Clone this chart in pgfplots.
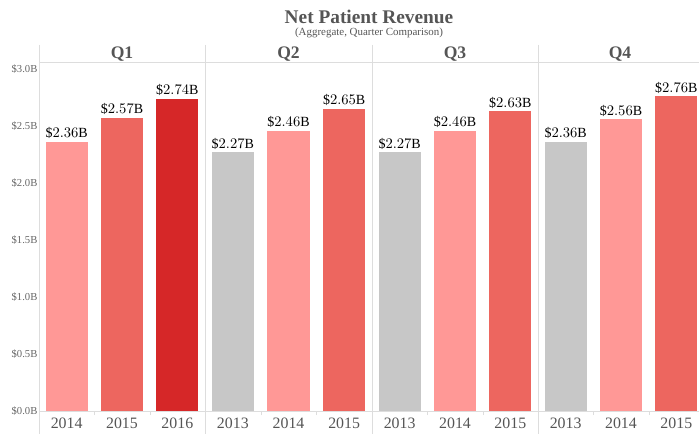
\documentclass[border=0pt]{standalone}
\usepackage{fontspec}
\setmainfont{Liberation Serif}
\usepackage{pgfplots}
\pgfplotsset{compat=1.18}
\definecolor{pinkc}{HTML}{FF9896}
\definecolor{salmon}{HTML}{ED665F}
\definecolor{redc}{HTML}{D62728}
\definecolor{grayc}{HTML}{C7C7C7}
\definecolor{linec}{HTML}{DDDDDD}
\definecolor{txt}{HTML}{555555}
\definecolor{ytxt}{HTML}{666666}
\pgfplotsset{
  panel/.style={
    scale only axis,
    anchor=south west,
    height=261.75pt,
    ymin=0, ymax=3.061,
    xmin=-0.5,
    ybar, bar shift=0pt, bar width=0.76,
    axis x line*=bottom,
    axis y line*=left,
    x axis line style={linec, -},
    y axis line style={draw=none},
    xtick={0,1,2},
    major tick length=0pt,
    extra x ticks={0.5,1.5},
    extra x tick labels={},
    extra x tick style={major tick length=3pt, tick align=outside, tick style={linec}},
    xticklabel style={font=\fontsize{11.9}{14}\selectfont, text=txt, yshift=-1.5pt},
    ytick=\empty,
    point meta=y,
    nodes near coords={\$\pgfmathprintnumber[fixed,fixed zerofill,precision=2]{\pgfplotspointmeta}B},
    every node near coord/.append style={font=\fontsize{10.5}{12}\selectfont, text=black, inner sep=2pt},
    clip=false,
  },
}
\begin{document}
\begin{tikzpicture}
\useasboundingbox (0,0) rectangle (524.25pt,-325.5pt);
% frame lines
\draw[linec] (29.25pt,-33.75pt) -- (29.25pt,-325.5pt);
\draw[linec] (153.75pt,-33.75pt) -- (153.75pt,-325.5pt);
\draw[linec] (279pt,-33.75pt) -- (279pt,-325.5pt);
\draw[linec] (403.5pt,-33.75pt) -- (403.5pt,-325.5pt);
\draw[linec] (29.25pt,-46.5pt) -- (524.25pt,-46.5pt);
% titles
\node[font=\bfseries\fontsize{14.5}{16}\selectfont, text=txt] at (276.75pt,-12.75pt) {Net Patient Revenue};
\node[font=\fontsize{8.2}{10}\selectfont, text=txt] at (276.75pt,-25pt) {(Aggregate, Quarter Comparison)};
\node[font=\bfseries\fontsize{13.2}{15}\selectfont, text=txt] at (91.5pt,-40.5pt) {Q1};
\node[font=\bfseries\fontsize{13.2}{15}\selectfont, text=txt] at (216.4pt,-40.5pt) {Q2};
\node[font=\bfseries\fontsize{13.2}{15}\selectfont, text=txt] at (341.25pt,-40.5pt) {Q3};
\node[font=\bfseries\fontsize{13.2}{15}\selectfont, text=txt] at (465pt,-40.5pt) {Q4};
% Q1
\begin{axis}[panel, at={(29.25pt,-308.25pt)}, width=124.5pt, xmax=2.5,
  xticklabels={2014,2015,2016},
  ytick={0,0.5,1,1.5,2,2.5,3},
  yticklabel={\$\pgfmathprintnumber[fixed,fixed zerofill,precision=1,assume math mode=true]{\tick}B},
  ytick style={linec},
  y tick label style={font=\fontsize{8}{9}\selectfont, text=ytxt, inner sep=1pt},
  ytick align=outside, ]
\addplot[fill=pinkc, draw=none] coordinates {(0,2.36)};
\addplot[fill=salmon, draw=none] coordinates {(1,2.57)};
\addplot[fill=redc, draw=none] coordinates {(2,2.74)};
\end{axis}
% Q2
\begin{axis}[panel, at={(153.75pt,-308.25pt)}, width=125.25pt, xmax=2.5,
  xticklabels={2013,2014,2015}]
\addplot[fill=grayc, draw=none] coordinates {(0,2.27)};
\addplot[fill=pinkc, draw=none] coordinates {(1,2.46)};
\addplot[fill=salmon, draw=none] coordinates {(2,2.65)};
\end{axis}
% Q3
\begin{axis}[panel, at={(279pt,-308.25pt)}, width=124.5pt, xmax=2.5,
  xticklabels={2013,2014,2015}]
\addplot[fill=grayc, draw=none] coordinates {(0,2.27)};
\addplot[fill=pinkc, draw=none] coordinates {(1,2.46)};
\addplot[fill=salmon, draw=none] coordinates {(2,2.63)};
\end{axis}
% Q4
\begin{axis}[panel, at={(403.5pt,-308.25pt)}, width=120.75pt, xmax=2.41,
  xticklabels={2013,2014,2015}]
\addplot[fill=grayc, draw=none] coordinates {(0,2.36)};
\addplot[fill=pinkc, draw=none] coordinates {(1,2.56)};
\addplot[fill=salmon, draw=none] coordinates {(2,2.76)};
\end{axis}
\end{tikzpicture}
\end{document}
